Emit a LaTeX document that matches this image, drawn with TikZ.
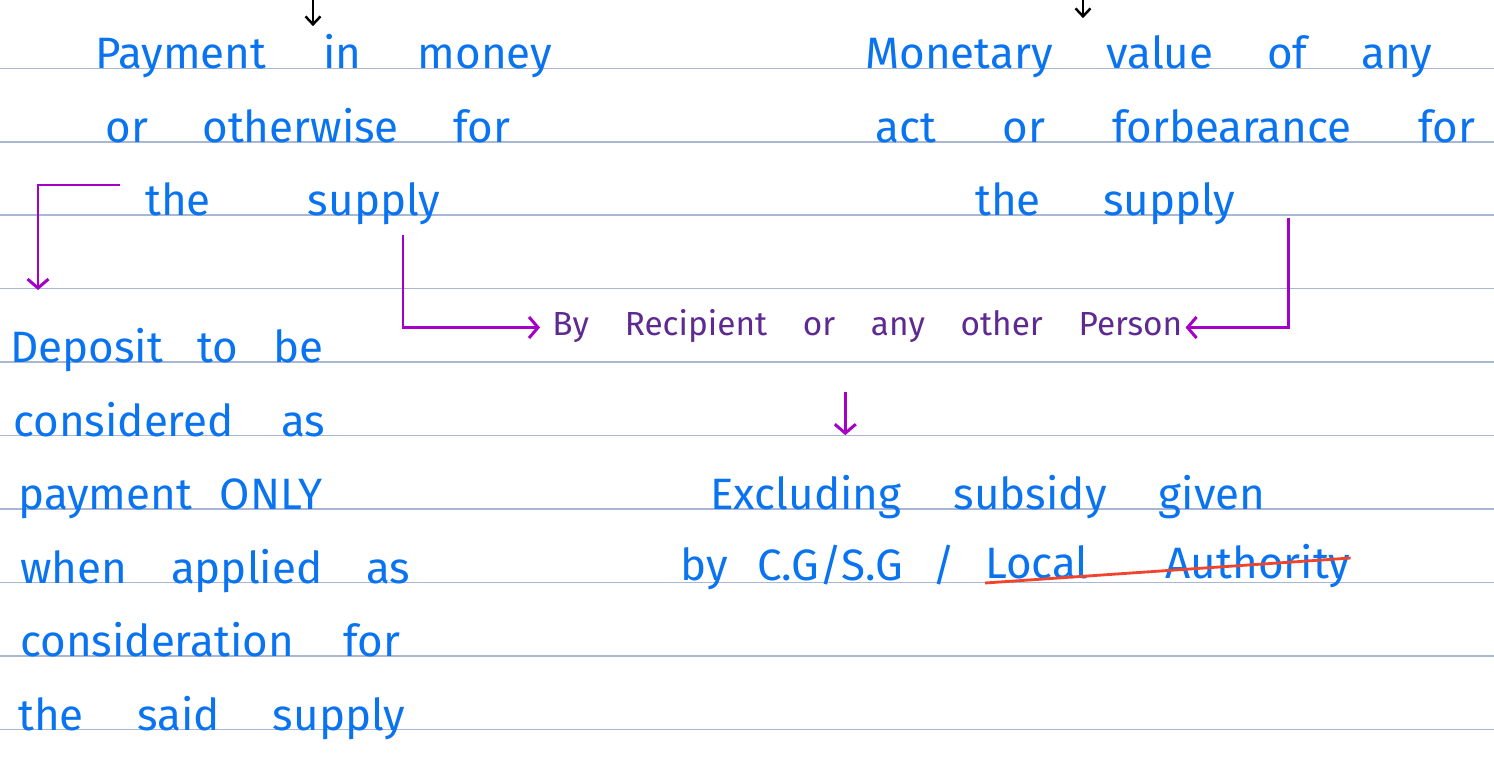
\documentclass[tikz,border=0pt]{standalone}
\usepackage{fontspec}
\setmainfont{Fira Sans}
\usetikzlibrary{arrows.meta,calc}
\definecolor{ink}{HTML}{0A74F0}
\definecolor{linkpurple}{HTML}{A400C8}
\definecolor{penpurple}{HTML}{5E2A92}
\definecolor{ruling}{HTML}{A9B8D2}
\definecolor{strikered}{HTML}{F0442E}
\tikzset{every node/.style={font=\fontsize{25}{29}\selectfont,inner sep=0pt,text height=.55cm,text depth=.2cm,anchor=base west},
 note/.style={text=ink},
 aside/.style={text=penpurple,font=\fontsize{19}{23}\selectfont,text height=.5cm},
 link/.style={-{Straight Barb[length=1.8mm,width=4.2mm]},draw=linkpurple,line width=1.7pt},
 cue/.style={-{Straight Barb[length=1.6mm,width=3mm]},draw=black,line width=1.4pt}}
\newcommand{\spread}[2]{\makebox[#1][s]{#2}}
\begin{document}
\begin{tikzpicture}[x=.02cm,y=-.02cm]

\path[use as bounding box,fill=white] (0,0) rectangle (1494,771);
\foreach \k in {0,...,9}
 \draw[ruling,line width=.9pt] (0,{68.3+73.45*\k}) -- (1494,{68.3+73.45*\k});

\node[note] (pay1) at (95,68) {\spread{9.14cm}{Payment in money}};
\node[note] (pay2) at (105,142) {\spread{8.1cm}{or otherwise for}};
\node[note] (pay3) at (145,215) {\spread{5.9cm}{the supply}};
\node[note] (mon1) at (865,68) {\spread{11.34cm}{Monetary value of any}};
\node[note] (mon2) at (875,142) {\spread{12cm}{act or forbearance for}};
\node[note] (mon3) at (975,215) {\spread{5.2cm}{the supply}};
\node[aside] (rec) at (552,335) {\spread{12.6cm}{By Recipient or any other Person}};
\node[note] (dep1) at (10,362) {\spread{6.26cm}{Deposit to be}};
\node[note] (dep2) at (13,436) {\spread{6.24cm}{considered as}};
\node[note] (dep3) at (18,509) {\spread{6.08cm}{payment ONLY}};
\node[note] (dep4) at (20,583) {\spread{7.8cm}{when applied as}};
\node[note] (dep5) at (20,656) {\spread{7.6cm}{consideration for}};
\node[note] (dep6) at (18,730) {\spread{7.74cm}{the said supply}};
\node[note] (exc1) at (710,509) {\spread{11.1cm}{Excluding subsidy given}};
\node[note] (exc2) at (680,580) {\spread{5.5cm}{by C.G/S.G /}};
\node[note] (auth) at (985,578) {\spread{7.3cm}{Local Authority}};
\draw[strikered,line width=1.6pt] ([shift={(0,5)}]auth.base west) -- ([shift={(0,-20)}]auth.base east);

\coordinate (srcL) at (313,-2);
\coordinate (srcR) at (1083,-2);
\draw[cue] (srcL) -- ([yshift=.28cm]srcL |- pay1.north);
\draw[cue] (srcR) -- ([yshift=.44cm]srcR |- mon1.north);

\draw[link] ($(pay3.base west)+(-25,-30)$) -| ([shift={(28,-72)}]dep1.base west);
\draw[link] ($(pay3.base west)+(258,20)$) |- ([xshift=-.24cm]rec.west);
\draw[link] ($(mon3.base east)+(53,3)$) |- ([xshift=.06cm]rec.east);
\coordinate (drop) at ([shift={(-22,47)}]rec.south);
\draw[link] (drop) -- ([yshift=.92cm]drop |- exc1.north);

\end{tikzpicture}
\end{document}
